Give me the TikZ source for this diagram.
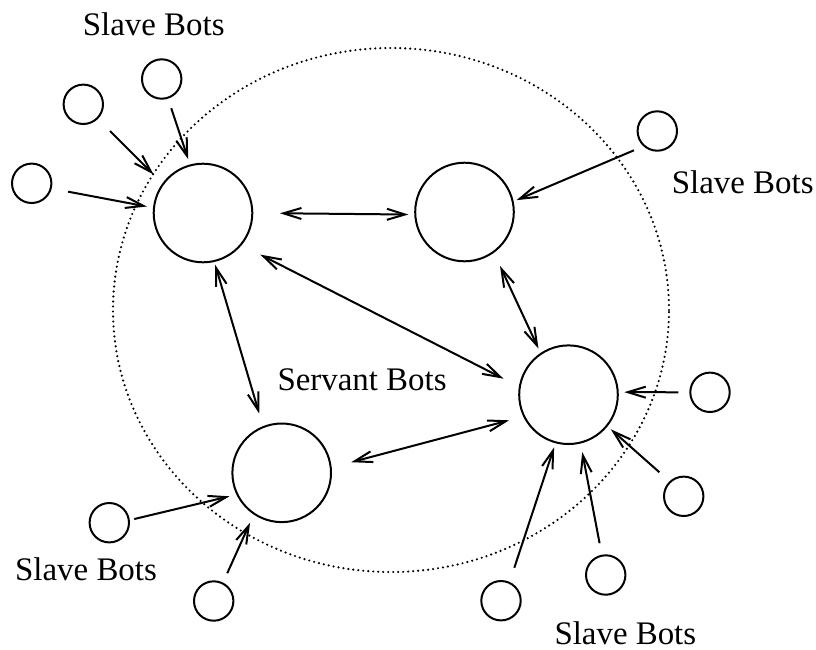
\documentclass[tikz,border=0pt]{standalone}
\usepackage{fontspec}
\setmainfont{Liberation Serif}
\usetikzlibrary{arrows.meta,shapes.geometric}

\tikzset{
  bot/.style={circle, draw, line width=2pt, inner sep=0pt, outer sep=0pt},
  servant/.style={bot, minimum size=98.6pt},
  slave/.style={bot, minimum size=39.4pt},
  barb/.tip={Straight Barb[length=18pt, width=11pt]},
  arr/.style={line width=2pt, -barb},
  link/.style={line width=2pt, barb-barb},
  group/.style={ellipse, draw, line width=2.4pt, dash pattern=on 0pt off 5pt,
                line cap=round, inner sep=0pt, outer sep=0pt},
  lbl/.style={font=\fontsize{32.9}{38}\selectfont, inner sep=0pt, anchor=base west}
}

\begin{document}
\begin{tikzpicture}[x=1pt, y=-1pt]
  \useasboundingbox (0,0) rectangle (816,649);

  % dotted boundary around the servant bots
  \node[group, minimum width=556pt, minimum height=524pt] (ring) at (391,310) {};

  % servant bots
  \node[servant] (TL) at (203,213) {};
  \node[servant] (TR) at (464.5,212) {};
  \node[servant] (BR) at (568.5,394.7) {};
  \node[servant] (BL) at (281.7,472.8) {};

  % slave bots
  \node[slave] (s1)  at (31.7,183.3) {};
  \node[slave] (s2)  at (83.3,104.3) {};
  \node[slave] (s3)  at (161.7,79) {};
  \node[slave] (s4)  at (657.3,131) {};
  \node[slave] (s5)  at (710,392.3) {};
  \node[slave] (s6)  at (683.7,496.3) {};
  \node[slave] (s7)  at (605.7,575) {};
  \node[slave] (s8)  at (501,600.7) {};
  \node[slave] (s9)  at (109.3,522.7) {};
  \node[slave] (s10) at (213.7,601) {};

  % slaves report to their servant
  \draw[arr, shorten <=17.7pt, shorten >=7.3pt]  (s1.-15.5)  -- (TL.174.2);
  \draw[arr, shorten <=18.1pt, shorten >=13.5pt] (s2.-45)    -- (TL.144.7);
  \draw[arr, shorten <=11pt,   shorten >=6.4pt]  (s3.-72.9)  -- (TL.105.3);
  \draw[arr, shorten <=11.4pt, shorten >=4.1pt]  (s4.-131.5) -- (TR.12.2);
  \draw[arr, shorten <=12pt,   shorten >=6.6pt]  (s5.180)    -- (BR.3.8);
  \draw[arr, shorten <=14.5pt, shorten >=5.3pt]  (s6.133.9)  -- (BR.-39.3);
  \draw[arr, shorten <=12.7pt, shorten >=9.7pt]  (s7.101.9)  -- (BR.-76.1);
  \draw[arr, shorten <=15.9pt, shorten >=5.3pt]  (s8.65.6)   -- (BR.-105.4);
  \draw[arr, shorten <=5.5pt,  shorten >=8.1pt]  (s9.7.7)    -- (BL.-154.3);
  \draw[arr, shorten <=11.2pt, shorten >=9.9pt]  (s10.63.8)  -- (BL.-124.3);

  % servants talk to each other
  \draw[link, shorten <=27.7pt, shorten >=6.9pt]  (TL.0)     -- (TR.-177.7);
  \draw[link, shorten <=21.9pt, shorten >=18.3pt] (TL.-40.3) -- (BR.171.2);
  \draw[link, shorten <=3.9pt,  shorten >=14.1pt] (TL.-77.7) -- (BL.112.6);
  \draw[link, shorten <=15.5pt, shorten >=5.8pt]  (TR.-54.9) -- (BR.124);
  \draw[link, shorten <=21.2pt, shorten >=15.6pt] (BL.6.9)   -- (BR.-154.4);

  % labels
  \node[lbl] (lblTop)    at (82.7,35.7)   {Slave Bots};
  \node[lbl] (lblRight)  at (671.7,193.3) {Slave Bots};
  \node[lbl] (lblLeft)   at (15,580)      {Slave Bots};
  \node[lbl] (lblBottom) at (554.3,644)   {Slave Bots};
  \node[lbl] (lblServ)   at (277.3,390.7) {Servant Bots};
\end{tikzpicture}
\end{document}
